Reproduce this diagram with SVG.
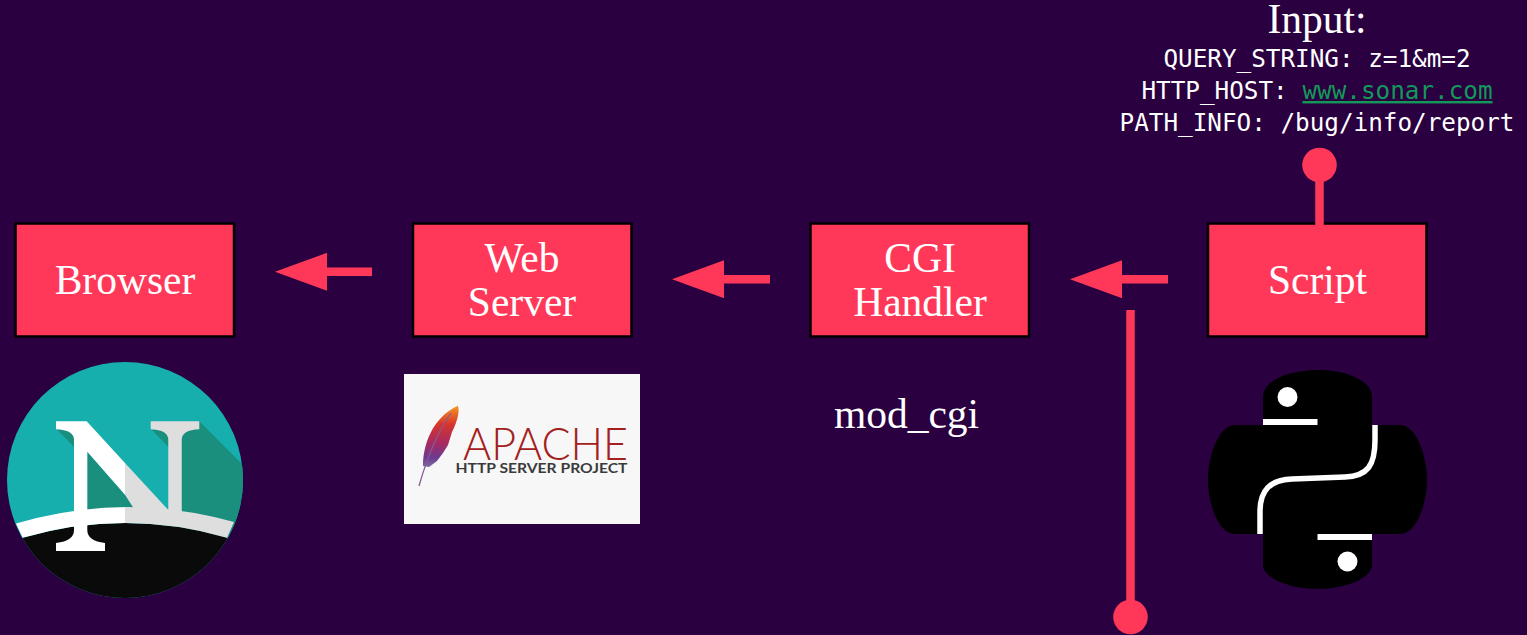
<svg xmlns="http://www.w3.org/2000/svg" width="1527" height="635" viewBox="0 0 1527 635">
<style>
.box{fill:#ff3859;stroke:#000;stroke-width:2.5}
.t{font-family:"Liberation Serif","Times New Roman",serif;font-size:41.5px;fill:#fff;text-anchor:middle}
.m{font-family:"DejaVu Sans Mono","Liberation Mono",monospace;font-size:24.3px;fill:#fff;text-anchor:middle}
.c{stroke:#ff3859;stroke-width:8.5;fill:none}
.dg{fill:#1a8f7d}
</style>
<defs>
<marker id="arrow" markerUnits="userSpaceOnUse" markerWidth="52" markerHeight="38" refX="0" refY="19" orient="auto"><path d="M0 0L52 19L0 38Z" fill="#ff3859"/></marker>
<marker id="dot" markerUnits="userSpaceOnUse" markerWidth="36" markerHeight="36" refX="18" refY="18" orient="auto"><circle cx="18" cy="18" r="17.300" fill="#ff3859"/></marker>
<clipPath id="nc"><circle cx="125" cy="480" r="118"/></clipPath>
<linearGradient id="band" gradientUnits="userSpaceOnUse" x1="16" y1="0" x2="234" y2="0"><stop offset=".5" stop-color="#fff"/><stop offset=".5" stop-color="#dedede"/></linearGradient>
<linearGradient id="fe" x1="0" y1="0" x2="0" y2="1"><stop offset="0" stop-color="#f59a23"/><stop offset=".3" stop-color="#d8352c"/><stop offset=".6" stop-color="#a82a5e"/><stop offset=".85" stop-color="#6d3a92"/><stop offset="1" stop-color="#7d6b9c"/></linearGradient>
</defs>
<rect width="1527" height="635" fill="#2a0040"/>
<g id="browser"><rect class="box" x="15.500" y="223.500" width="218.500" height="113"/><text class="t" x="125" y="294">Browser</text></g>
<g id="web-server"><rect class="box" x="413" y="223.500" width="218.500" height="113"/><text class="t" x="522" y="272">Web</text><text class="t" x="522" y="316">Server</text></g>
<g id="cgi-handler"><rect class="box" x="810.500" y="223.500" width="218.500" height="113"/><text class="t" x="920" y="272">CGI</text><text class="t" x="920" y="316">Handler</text></g>
<g id="script"><rect class="box" x="1208" y="223.500" width="218.500" height="113"/><text class="t" x="1317.500" y="294">Script</text></g>
<g id="connectors">
<line class="c" x1="372" y1="271.800" x2="327" y2="271.800" marker-end="url(#arrow)"/>
<line class="c" x1="770" y1="279.200" x2="724" y2="279.200" marker-end="url(#arrow)"/>
<line class="c" x1="1168" y1="279.200" x2="1122" y2="279.200" marker-end="url(#arrow)"/>
<line class="c" x1="1319.500" y1="225.500" x2="1319.500" y2="165" marker-end="url(#dot)"/>
<line class="c" x1="1130.500" y1="310" x2="1130.500" y2="617" marker-end="url(#dot)"/>
</g>
<g id="input">
<text class="t" x="1317" y="33">Input:</text>
<text class="m" x="1317" y="67">QUERY_STRING: z=1&amp;m=2</text>
<text class="m" x="1317" y="99">HTTP_HOST: <tspan fill="#14985a" text-decoration="underline">www.sonar.com</tspan></text>
<text class="m" x="1317" y="131">PATH_INFO: /bug/info/report</text>
</g>
<g id="mod-cgi"><text class="t" x="906.500" y="428">mod_cgi</text></g>
<g id="netscape-logo">
<circle cx="125" cy="480" r="118" fill="#17aeae"/>
<g clip-path="url(#nc)">
<path class="dg" d="M181.700 429L199.300 421.300L245 467V540H181.700Z"/>
<path d="M22.700 537.700Q125 508.300 227 537.700L245 610H5Z" fill="#0a0a0a"/>
<path class="dg" d="M57.500 430H74V447Z"/>
<path class="dg" d="M152 430H168.300V447Z"/>
<path class="dg" d="M87.300 451.700L136 507.500L87.300 510Z"/>
<path d="M16 523.500Q125 491.500 234 522L227 537.700Q125 508.300 22.700 537.700Z" fill="url(#band)"/>
</g>
<path d="M56 421.300H86.700L125 463V494.700L87.300 451.700V530Q87.300 541 105 543V551H56V543Q74 541 74 530V440Q74 430 56 429.300Z" fill="#fff"/>
<path d="M125 463L168.300 510V440Q168.300 430 150.700 429.300V421.300H199.300V429.300Q181.700 430 181.700 440V512H136L125 494.700Z" fill="#dedede"/>
</g>
<g id="apache-logo">
<rect x="404" y="374" width="236" height="150" fill="#f7f7f7"/>
<path d="M457.700 405.700C460 410 458 420 452 432L448 445L443 453L437 461L429 467L423 466C423 445 432 418 457.700 405.700Z" fill="url(#fe)"/>
<path d="M451 413Q432 440 419 486" fill="none" stroke="#8a5a96" stroke-width="1.300"/>
<text x="463" y="460" font-family="Lato,Liberation Sans,sans-serif" font-weight="300" font-size="45" fill="#a3201d" textLength="165" lengthAdjust="spacingAndGlyphs">APACHE</text>
<text x="455.500" y="473" font-family="Lato,Liberation Sans,sans-serif" font-size="13" font-weight="700" fill="#3b3b3b" textLength="172" lengthAdjust="spacingAndGlyphs">HTTP SERVER PROJECT</text>
</g>
<g id="python-logo">
<path d="M1263 425V397C1263 380 1290 370 1318 370C1345 370 1372 380 1372 397V425H1400C1416 425 1427 455 1427 480C1427 505 1416 534 1400 534H1372V565C1372 578 1345 589 1318 589C1290 589 1263 578 1263 565V534H1235C1219 534 1208 505 1208 480C1208 455 1219 425 1235 425Z" fill="#000"/>
<rect x="1263" y="419" width="54.500" height="6" fill="#fff"/>
<rect x="1317.500" y="534" width="54.500" height="6" fill="#fff"/>
<circle cx="1287.500" cy="397" r="10" fill="#fff"/>
<circle cx="1347.500" cy="561.500" r="10" fill="#fff"/>
<path d="M1375 425V440C1375 465 1368 476 1345 477L1292 479C1270 480 1260 490 1260 512V534" fill="none" stroke="#fff" stroke-width="5.500"/>
</g>
</svg>
